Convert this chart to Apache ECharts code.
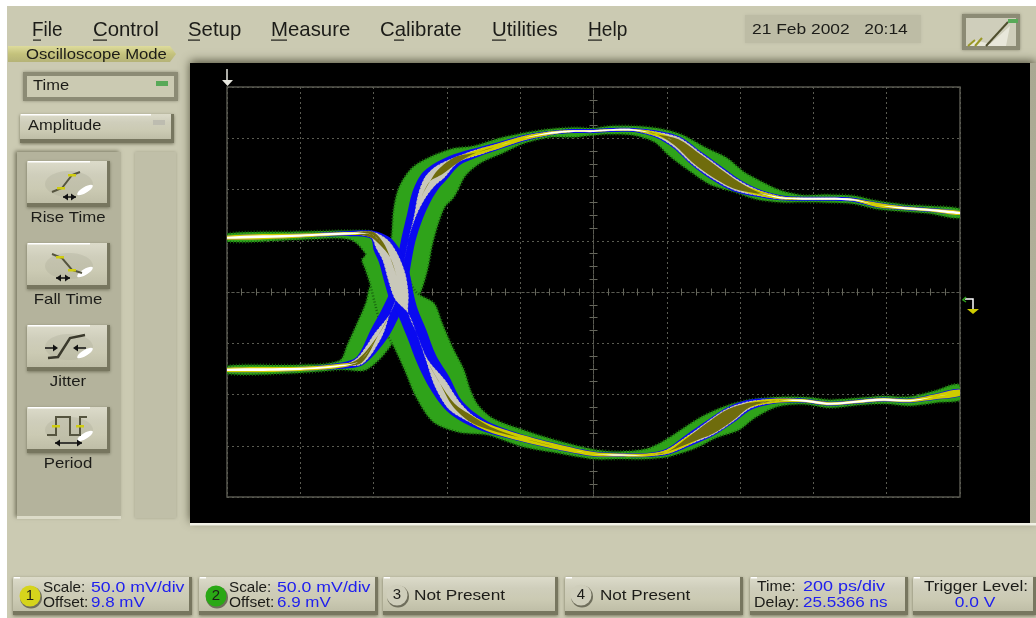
<!DOCTYPE html>
<html>
<head>
<meta charset="utf-8">
<title>Oscilloscope eye</title>
<script src="https://cdn.jsdelivr.net/npm/echarts@6/dist/echarts.min.js"></script>
<style>
  html, body { margin: 0; padding: 0; background: #fff; }
  #main { width: 1036px; height: 618px; filter: blur(0.45px); }
</style>
</head>
<body>
<div id="main"></div>
<script>
// rising trace, time in ps from screen centre, level in mV, spreads in mV
const riseTime = [-1000, -801, -692, -637, -587, -555, -533, -519, -505, -487, -469, -446, -419, -373, -319, -255, -191, -119, -55, 0, 45, 109, 172, 227, 282, 336, 391, 445, 509, 573, 645, 709, 773, 845, 918, 1000];
const riseLevel = [-76, -75, -72, -67, -42, -21, -1, 25, 51, 74, 93, 108, 117, 129, 136, 143, 150, 155, 157, 157, 158, 158, 154, 146, 130, 116, 104, 97, 92, 91, 91, 90, 85, 82, 80, 77];
const riseGreenUp = [4, 4, 5, 20, 24, 26, 28, 16, 17, 22, 24, 22, 18, 12, 7, 7, 5, 4, 3.5, 3, 4, 4, 6, 9, 14, 18, 15, 12, 7, 3.5, 4, 4, 4, 3.5, 4, 4];
const riseGreenDown = [4, 4, 4, 11, 16, 12, 20, 24, 24, 24, 25, 28, 26, 18, 11, 8, 5, 4, 6, 4, 4, 5, 8, 15, 14, 13, 7, 6.5, 4.5, 3.5, 4, 4, 4, 3.5, 3.5, 5];
const riseBlue = [2, 2, 3, 5, 9, 9, 8, 7, 7, 8, 10, 11, 10, 6, 4.5, 3.5, 3, 2, 2, 2, 2, 2, 3.5, 6.5, 8, 8, 6.5, 4, 2.5, 2, 2, 2, 2.5, 2, 2, 2];
const riseGray = [0, 0, 0, 4, 4, 0, 0, 0, 0, 1, 4, 6.5, 7, 3, 3, 2, 2, 1.5, 1, 1, 1, 1, 2.5, 5.5, 7, 7, 5.5, 3, 1.5, 1, 1, 1, 1.5, 1, 1, 1];
const riseYellow = [2, 2, 2, 1, 0, 0, 0, 0, 0, 0, 0, 0, 1, 2, 2.5, 2.5, 2, 1.5, 1, 1, 1, 1, 2, 2, 2, 2, 2.5, 2.5, 1.5, 1, 1, 1, 2, 1.5, 1.5, 2];
const riseOlive = [0, 0, 0, 2.5, 0, 0, 0, 0, 0, 0, 0, 0, 3, 3, 0, 0, 0, 0, 0, 0, 0, 0, 0, 3.5, 5.5, 5.5, 4, 1, 0, 0, 0, 0, 0, 0, 0, 0];
const riseWhite = [1, 1, 0.8, 0, 0, 0, 0, 0, 0, 0, 0, 0, 0, 0, 0, 0, 0, 0.8, 0.8, 0.8, 0.8, 0.8, 0, 0, 0, 0, 0, 0, 0.8, 1, 1, 0.8, 0, 1, 1, 1];

// falling trace
const fallTime = [-1000, -801, -664, -605, -578, -555, -537, -523, -505, -483, -455, -419, -382, -337, -282, -191, -100, 0, 72, 145, 200, 263, 318, 373, 427, 500, 573, 645, 718, 791, 864, 936, 1000];
const fallLevel = [53, 55, 57, 56, 47, 34, 15, -5, -21, -40, -66, -89, -110, -123, -133, -143, -151, -158, -159, -159, -156, -144, -133, -120, -110, -106, -106, -109, -107, -105, -106, -102, -98];
const fallGreenUp = [4, 4, 3, 3, 5, 8, 10, 15, 27, 27, 28, 27, 22, 15, 10, 8, 6, 4.5, 3.5, 6, 11, 13, 14, 10, 5, 3.5, 3.5, 4, 3.5, 3.5, 4, 6, 8];
const fallGreenDown = [4, 4, 6, 20, 25, 27, 27, 27, 29, 26, 24, 27, 26, 17, 7, 8, 6, 5, 4, 4, 5, 10, 11, 17, 14, 6, 3.5, 4, 3.5, 4, 5, 6, 7];
const fallBlue = [2, 2, 2.5, 4, 10, 12, 13, 12, 10, 10, 10, 11, 9, 7, 5, 3.5, 3, 2.5, 2, 2, 3, 6, 8, 8, 5, 2.5, 2, 2, 2, 2, 2, 3, 3.5];
const fallGray = [0, 0, 1, 3, 7, 8, 9, 7, 0, 0, 1, 6, 6.5, 4, 3, 2.5, 1.5, 1, 1, 1, 2, 4.5, 7, 7, 3.5, 1.5, 1, 1, 1, 1, 1, 1.5, 2];
const fallYellow = [2, 2, 1.5, 2, 0, 0, 0, 0, 0, 0, 0, 0, 0, 3, 3.5, 3, 2.5, 2, 1.5, 1.5, 2, 4, 3, 3, 2.5, 2, 1.5, 1.5, 1.5, 1.5, 1.5, 2.5, 3];
const fallOlive = [0, 0, 0, 3, 2, 0, 0, 0, 0, 0, 0, 0, 1.5, 3, 1.5, 0, 0, 0, 0, 0, 0, 3, 6, 6, 2, 0, 0, 0, 0, 0, 0, 0, 0];
const fallWhite = [1, 1, 1, 0, 0, 0, 0, 0, 0, 0, 0, 0, 0, 0, 0, 0, 0, 0, 0.8, 0, 0, 0, 0, 0, 0, 0, 1, 1, 1, 1, 0.8, 0, 0];

// screen text
const menuLabels = ['File', 'Control', 'Setup', 'Measure', 'Calibrate', 'Utilities', 'Help'];
const measureLabels = ['Rise Time', 'Fall Time', 'Jitter', 'Period'];
const channelScale = ['50.0 mV/div', '50.0 mV/div'];
const channelOffset = ['9.8 mV', '6.9 mV'];
const timeScale = '200 ps/div';
const timeDelay = '25.5366 ns';
const triggerLevel = '0.0 V';
const dateText = '21 Feb 2002   20:14';

const UI_FONT = '"Liberation Sans", Arial, sans-serif';
const PANEL = '#cbcab2';

const rise = {time: riseTime, level: riseLevel};
const fall = {time: fallTime, level: fallLevel};

// draw order, green first and white core on top
const layers = [
  {up: [riseGreenUp, fallGreenUp], down: [riseGreenDown, fallGreenDown], fill: '#2fa31a', stroke: '#17610f', dash: [1, 2], lw: 2.5},
  {up: [riseBlue, fallBlue], down: [riseBlue, fallBlue], fill: '#0a0af0'},
  {up: [riseGray, fallGray], down: [riseGray, fallGray], fill: '#c9c8ba', stroke: '#0a0af0', dash: [1, 3], lw: 1},
  {up: [riseYellow, fallYellow], down: [riseYellow, fallYellow], fill: '#cfcc00'},
  {up: [riseOlive, fallOlive], down: [riseOlive, fallOlive], fill: '#6f6c0c'},
  {up: [riseWhite, fallWhite], down: [riseWhite, fallWhite], fill: '#ffffff'}
];

const bandItems = [];
layers.forEach((l, i) => {
  bandItems.push([i, 0]);
  bandItems.push([i, 1]);
});

function renderBand(params, api) {
  const item = bandItems[params.dataIndex];
  const layer = layers[item[0]];
  const trace = item[1] === 0 ? rise : fall;
  const up = layer.up[item[1]];
  const down = layer.down[item[1]];
  const scale = api.size([0, 1])[1];
  const pts = trace.time.map((t, i) => api.coord([t, trace.level[i]]));
  const top = [];
  const bottom = [];
  pts.forEach((p, i) => {
    const a = pts[Math.max(i - 1, 0)];
    const b = pts[Math.min(i + 1, pts.length - 1)];
    const dx = b[0] - a[0];
    const dy = b[1] - a[1];
    const len = Math.sqrt(dx * dx + dy * dy);
    const nx = dy / len;
    const ny = -dx / len;
    top.push([p[0] + nx * up[i] * scale, p[1] + ny * up[i] * scale]);
    bottom.unshift([p[0] - nx * down[i] * scale, p[1] - ny * down[i] * scale]);
  });
  return {
    type: 'polygon',
    shape: {points: top.concat(bottom), smooth: 0.3},
    style: {
      fill: layer.fill,
      stroke: layer.stroke || null,
      lineWidth: layer.lw || 0,
      lineDash: layer.dash || null
    }
  };
}

// ---- panel drawing helpers ----
function box(x, y, w, h, fill, extra) {
  return Object.assign({type: 'rect', shape: {x: x, y: y, width: w, height: h}, style: {fill: fill}}, extra || {});
}
// sx stretches the text sideways, the screenshot was resized and its letters are wide
function label(x, y, text, font, fill, align, sx) {
  return {
    type: 'text', x: x, y: y, scaleX: sx || 1,
    style: {x: 0, y: 0, text: text, font: font, fill: fill || '#1c1c18', align: align || 'left', verticalAlign: 'middle'}
  };
}
function grad(stops) {
  return new echarts.graphic.LinearGradient(0, 0, 0, 1, stops.map((c, i) => ({offset: i / (stops.length - 1), color: c})));
}
function line(points, color, width) {
  return {type: 'polyline', shape: {points: points}, style: {stroke: color, lineWidth: width, fill: null}};
}
function raised(x, y, w, h, shine) {
  return [
    box(x, y, w, h, '#77765f', {style: {fill: '#77765f', shadowBlur: 3, shadowColor: '#77765f', shadowOffsetY: 1}}),
    box(x, y, w - 3, h - 4, grad(['#dcdbca', '#cfcebb', '#cbcab3', '#bfbea7'])),
    box(x + 1, y, shine, 1.5, '#ffffff')
  ];
}
function sunken(x, y, w, h, fill) {
  return [
    box(x, y, w, h, '#8c8b75', {style: {fill: '#8c8b75', shadowBlur: 3, shadowColor: '#8c8b75'}}),
    box(x + 4, y + 4, w - 8, h - 8, fill)
  ];
}
function arrowHead(x, y, dir) {
  return {type: 'polygon', shape: {points: [[x, y], [x - dir * 5, y - 3.5], [x - dir * 5, y + 3.5]]}, style: {fill: '#111'}};
}
function dblArrow(x1, x2, y) {
  return [line([[x1, y], [x2, y]], '#111', 1.5), arrowHead(x1, y, -1), arrowHead(x2, y, 1)];
}
function glint(x, y) {
  return [
    {type: 'ellipse', shape: {cx: x - 16, cy: y - 6, rx: 24, ry: 13}, style: {fill: '#aaa995', opacity: 0.3}},
    {type: 'ellipse', shape: {cx: 0, cy: 0, rx: 9, ry: 3}, x: x, y: y, rotation: 0.55, style: {fill: '#ffffff'}}
  ];
}
function marker(x, y) {
  return box(x - 4, y - 1, 8, 2.5, '#cfcc10', {z: 3});
}
function circleBadge(x, y, fill, text) {
  return [
    {type: 'circle', shape: {cx: x + 1, cy: y + 1.5, r: 11}, style: {fill: '#6f6e5c'}},
    {type: 'circle', shape: {cx: x, cy: y, r: 10.5}, style: {fill: fill}},
    label(x, y, text, '15px ' + UI_FONT, '#1c1c18', 'center')
  ];
}

function buildPanel() {
  let g = [];
  const menuX = [32, 93, 188, 271, 380, 492, 588];
  const menuSx = [0.9, 0.97, 0.97, 0.97, 0.97, 0.97, 0.91];
  const lineX = [[33, 41], [93, 107], [188, 200], [271, 287], [394, 404], [492, 506], [588, 602]];

  g.push(box(7, 6, 1029, 612, PANEL));

  // scope screen
  g.push(box(190, 63, 846, 460, '#000', {style: {fill: '#000', shadowBlur: 9, shadowColor: '#55543f', shadowOffsetY: -2}}));
  g.push(box(190, 523, 846, 2.5, '#f2f1e6'));
  g.push(box(1030, 63, 6, 460, grad(['#a9a892', '#b9b8a2'])));

  // menu bar
  menuLabels.forEach((m, i) => {
    g.push(label(menuX[i], 30, m, '21px ' + UI_FONT, '#1c1c18', 'left', menuSx[i]));
    g.push(box(lineX[i][0], 39.5, lineX[i][1] - lineX[i][0], 1.2, '#1c1c18'));
  });
  g.push(box(745, 15, 176, 28, '#bdbca5', {style: {fill: '#bdbca5', shadowBlur: 3, shadowColor: '#bdbca5'}}));
  g.push(label(752, 30, dateText, '14.5px ' + UI_FONT, '#1c1c18', 'left', 1.2));

  // corner icon
  g = g.concat(sunken(962, 14, 58, 36, '#cfcebb'));
  g.push({type: 'polygon', shape: {points: [[967, 46], [975, 40], [990, 44], [1010, 26], [1006, 46]]}, style: {fill: '#e8e7da'}});
  g.push(line([[968, 46], [975, 40]], '#9a9826', 2));
  g.push(line([[975, 46], [982, 38]], '#9a9826', 2));
  g.push(line([[986, 46], [1008, 22]], '#4f4e2e', 2));
  g.push(box(1008, 19, 10, 4, '#58a958'));

  // mode tab
  g.push({type: 'polygon', shape: {points: [[8, 46], [170, 46], [176, 54], [170, 62], [8, 62]]}, style: {fill: grad(['#dedc9c', '#c4c27c', '#b5b377'])}});
  g.push(label(26, 55, 'Oscilloscope Mode', '14.5px ' + UI_FONT, '#1c1c18', 'left', 1.15));

  g = g.concat(sunken(23, 72, 155, 29, '#cbcab2'));
  g.push(label(33, 86, 'Time', '15px ' + UI_FONT, '#1c1c18', 'left', 1.1));
  g.push(box(156, 81, 12, 5, '#58a958'));
  g = g.concat(raised(20, 114, 154, 29, 130));
  g.push(label(28, 126, 'Amplitude', '15px ' + UI_FONT, '#1c1c18', 'left', 1.1));
  g.push(box(153, 120, 12, 5, '#bdbcb0'));

  // measurement column
  g.push(box(17, 152, 104, 366, '#b4b39c', {style: {fill: '#b4b39c', shadowBlur: 4, shadowColor: '#77765f', shadowOffsetX: -2, shadowOffsetY: -1}}));
  g.push(box(135, 152, 41, 366, '#c0bfa8', {style: {fill: '#c0bfa8', shadowBlur: 3, shadowColor: '#a3a28c'}}));
  g.push(box(17, 516, 104, 3, '#dcdbc8'));

  const btnY = [161, 243, 325, 407];
  const labelY = [218, 300, 382, 464];
  btnY.forEach((y, i) => {
    g = g.concat(raised(27, y, 83, 46, 62));
    g = g.concat(glint(85, y + (i === 2 ? 28 : 29)));
    g.push(label(68, labelY[i], measureLabels[i], '15px ' + UI_FONT, '#1c1c18', 'center', 1.12));
  });
  g.push(line([[52, 192], [62, 188], [72, 175], [80, 172]], '#55543f', 2));
  g.push(marker(61, 188), marker(72, 175));
  g = g.concat(dblArrow(63, 76, 197));
  g.push(line([[52, 254], [62, 258], [72, 270], [82, 273]], '#55543f', 2));
  g.push(marker(60, 257), marker(72, 270));
  g = g.concat(dblArrow(56, 70, 278));
  g.push(line([[48, 358], [58, 357], [70, 338], [85, 335]], '#3a392c', 2.5));
  g.push(line([[45, 348], [55, 348]], '#111', 1.5), arrowHead(58, 348, 1));
  g.push(line([[76, 348], [86, 348]], '#111', 1.5), arrowHead(73, 348, -1));
  g.push(line([[47, 435], [56, 435], [56, 417], [70, 417], [70, 435], [80, 435], [80, 417], [87, 417]], '#55543f', 2));
  g.push(marker(56, 426), marker(80, 426));
  g = g.concat(dblArrow(55, 82, 443));

  // status buttons along the bottom
  const statusX = [13, 199, 383, 565, 750, 913];
  const statusW = [179, 179, 175, 178, 158, 123];
  statusX.forEach((x, i) => {
    g = g.concat(raised(x, 577, statusW[i], 38, 6));
  });
  const smallFont = '14.5px ' + UI_FONT;
  const blue = '#2020ee';
  g = g.concat(circleBadge(30, 596, '#d6d41c', '1'));
  g = g.concat(circleBadge(216, 596, '#2aa815', '2'));
  g = g.concat(circleBadge(397, 595, '#cfcebb', '3'));
  g = g.concat(circleBadge(581, 595, '#cfcebb', '4'));
  [43, 229].forEach((x, i) => {
    g.push(label(x, 588, 'Scale:', smallFont, '#1c1c18', 'left', 1.05));
    g.push(label(x + 48, 588, channelScale[i], smallFont, blue, 'left', 1.22));
    g.push(label(x, 603, 'Offset:', smallFont, '#1c1c18', 'left', 1.07));
    g.push(label(x + 48, 603, channelOffset[i], smallFont, blue, 'left', 1.17));
  });
  g.push(label(414, 596, 'Not Present', '15px ' + UI_FONT, '#1c1c18', 'left', 1.15));
  g.push(label(600, 596, 'Not Present', '15px ' + UI_FONT, '#1c1c18', 'left', 1.14));
  g.push(label(757, 587, 'Time:', smallFont, '#1c1c18', 'left', 1.08));
  g.push(label(803, 587, timeScale, smallFont, blue, 'left', 1.24));
  g.push(label(754, 603, 'Delay:', smallFont, '#1c1c18', 'left', 1.1));
  g.push(label(803, 603, timeDelay, smallFont, blue, 'left', 1.18));
  g.push(label(924, 587, 'Trigger Level:', smallFont, '#1c1c18', 'left', 1.18));
  g.push(label(975, 603, triggerLevel, smallFont, blue, 'center', 1.2));

  // screen markers
  g.push(line([[227, 69], [227, 81]], '#e8e8e0', 1.5));
  g.push({type: 'polygon', shape: {points: [[222, 80], [233, 80], [227.5, 86]]}, style: {fill: '#e8e8e0'}});
  g.push(line([[965, 299], [973, 299], [973, 309]], '#ffffff', 1.5));
  g.push(line([[966, 297], [963, 300], [966, 302]], '#2fa31a', 1.5));
  g.push({type: 'polygon', shape: {points: [[967, 309], [979, 309], [973, 314]]}, style: {fill: '#cfcc00'}});

  return g.map(el => {
    if (el.z === undefined) {
      el.z = -10;
    }
    return el;
  });
}

// both axes cross at the centre, so each needs a tick set on each side
function centreX(inside) {
  return {
    type: 'value', min: -1000, max: 1000, interval: 200,
    axisLine: {show: true, onZero: true, lineStyle: {color: '#5a5b52', type: [2, 3]}},
    axisTick: {show: false},
    minorTick: {show: true, splitNumber: 5, length: 3.5, lineStyle: {color: '#66675c', width: 1}},
    axisLabel: {show: false},
    splitLine: {show: inside, lineStyle: {color: '#5a5b52', type: [2, 3], width: 1}}
  };
}
function centreY(inside) {
  return {
    type: 'value', min: -200, max: 200, interval: 50,
    axisLine: {show: true, onZero: true, lineStyle: {color: '#5a5b52', type: [2, 3]}},
    axisTick: {show: false},
    minorTick: {show: true, splitNumber: 4, length: 4, lineStyle: {color: '#66675c', width: 1}},
    axisLabel: {show: false},
    splitLine: {show: inside, lineStyle: {color: '#5a5b52', type: [2, 3], width: 1}}
  };
}

const xInner = centreX(true);
const xOuter = centreX(false);
xOuter.position = 'top';
const yInner = centreY(true);
const yOuter = centreY(false);
yOuter.position = 'right';

const chart = echarts.init(document.getElementById('main'), null, {renderer: 'canvas'});
chart.setOption({
  animation: false,
  backgroundColor: '#ffffff',
  grid: {
    left: 227, right: 76, top: 87, bottom: 121,
    show: true, backgroundColor: '#000', borderColor: '#55564e', borderWidth: 1.5
  },
  xAxis: [xInner, xOuter],
  yAxis: [yInner, yOuter],
  graphic: {elements: buildPanel()},
  series: [{
    type: 'custom',
    coordinateSystem: 'cartesian2d',
    clip: true,
    silent: true,
    renderItem: renderBand,
    data: bandItems
  }]
});
</script>
</body>
</html>
